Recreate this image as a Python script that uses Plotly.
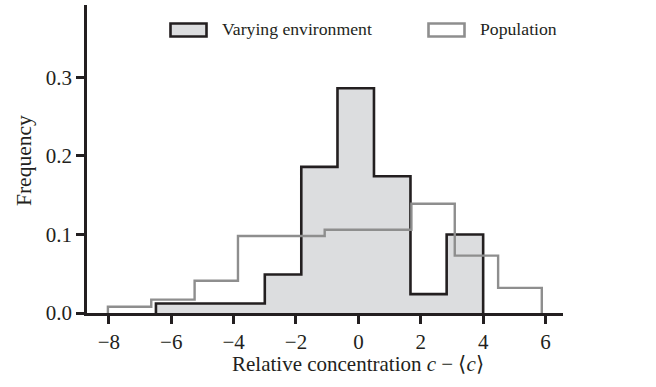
import plotly.graph_objects as go

# ---- data ----
env_edges = [-6.49, -5.33, -4.16, -3.00, -1.83, -0.67, 0.50, 1.67, 2.83, 4.00]
env_freq = [0.012, 0.012, 0.012, 0.049, 0.186, 0.286, 0.174, 0.024, 0.100]
pop_edges = [-8.03, -6.64, -5.25, -3.86, -2.47, -1.08, 0.31, 1.70, 3.09, 4.48, 5.88]
pop_freq = [0.008, 0.017, 0.041, 0.098, 0.098, 0.106, 0.106, 0.139, 0.073, 0.032]
x_ticks = [-8, -6, -4, -2, 0, 2, 4, 6]
y_ticks = [0.0, 0.1, 0.2, 0.3]
series_names = ["Varying environment", "Population"]

# ---- styling ----
INK = "#231f20"
GRAY = "#8e8e8e"
FILL = "#dcdddf"
FONT = "Liberation Serif"

W, H = 656, 387
L, R, T, B = 87, 93, 5, 74
PW, PH = W - L - R, H - T - B


def step(edges, freq):
    xs = [edges[0]] + list(edges[:-1]) + [edges[-1]]
    ys = [0] + list(freq) + [0]
    return xs, ys


def px(xp):
    return (xp - L) / PW


def py(yp):
    return (H - B - yp) / PH


fig = go.Figure()
ex, ey = step(env_edges, env_freq)
fig.add_trace(go.Scatter(x=ex, y=ey, mode="lines", line=dict(shape="hv", color=INK, width=2.6),
                         fill="tozeroy", fillcolor=FILL, name=series_names[0], showlegend=False))
gx, gy = step(pop_edges, pop_freq)
fig.add_trace(go.Scatter(x=gx, y=gy, mode="lines", line=dict(shape="hv", color=GRAY, width=2.4),
                         name=series_names[1], showlegend=False))

axis_common = dict(showline=True, linewidth=2.6, linecolor=INK, ticks="outside", ticklen=8,
                   tickwidth=2.6, tickcolor=INK, showgrid=False, zeroline=False,
                   tickfont=dict(family=FONT, size=21, color=INK))
fig.update_xaxes(range=[-8.7, 6.56], tickvals=x_ticks, **axis_common)
fig.update_yaxes(range=[0, 0.392], tickvals=y_ticks, tickformat=".1f", **axis_common)

# axis titles
fig.add_annotation(text="Relative concentration <i>c</i> \u2212 \u27e8<i>c</i>\u27e9",
                   xref="paper", yref="paper", x=px(358), y=py(364),
                   showarrow=False, xanchor="center", yanchor="middle",
                   font=dict(family=FONT, size=21, color=INK))
fig.add_annotation(text="Frequency", xref="paper", yref="paper", x=px(24), y=py(161),
                   showarrow=False, textangle=-90, xanchor="center", yanchor="middle",
                   font=dict(family=FONT, size=21.5, color=INK))

# manual legend
legend_items = [
    (series_names[0], 170.5, 206.5, 220, INK, FILL),
    (series_names[1], 428.5, 464.5, 478, GRAY, "white"),
]
for name, x0, x1, tx, lc, fc in legend_items:
    fig.add_shape(type="rect", xref="paper", yref="paper", x0=px(x0), x1=px(x1),
                  y0=py(36.5), y1=py(23.5), line=dict(color=lc, width=2.6), fillcolor=fc)
    fig.add_annotation(text=name, xref="paper", yref="paper", x=px(tx), y=py(29),
                       xanchor="left", yanchor="middle", showarrow=False,
                       font=dict(family=FONT, size=17.7, color=INK))

fig.update_layout(width=W, height=H, margin=dict(l=L, r=R, t=T, b=B),
                  plot_bgcolor="white", paper_bgcolor="white", showlegend=False,
                  font=dict(family=FONT, color=INK))

fig.write_html("out.html", config={"displayModeBar": False},
               post_script="document.body.style.margin='0';")
